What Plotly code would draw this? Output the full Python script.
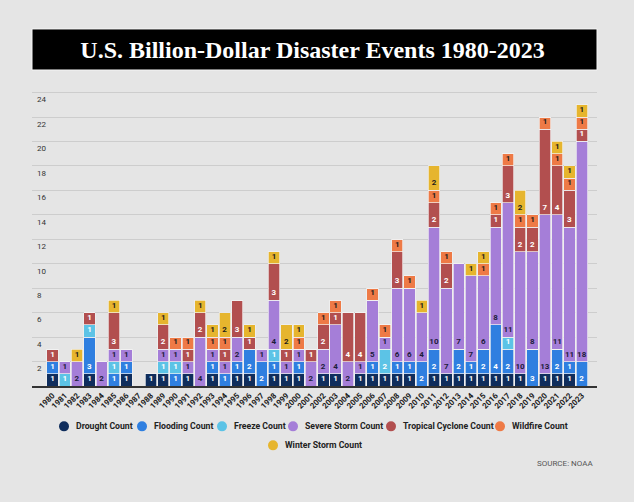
import plotly.graph_objects as go

years = [str(y) for y in range(1980, 2024)]

drought =   [1,0,0,1,0,0,1,0,1,1, 0,1,0,1,0,1,1,0,1,1, 1,0,1,1,0,1,1,1,1,1, 0,1,1,1,1,1,1,1,1,0, 1,1,1,0]
flooding =  [1,0,0,3,0,1,1,0,0,0, 1,0,0,1,1,1,2,2,1,0, 1,0,0,0,0,0,1,0,1,1, 2,2,0,2,1,2,4,2,0,3, 0,2,1,2]
freeze =    [0,1,0,1,0,1,0,0,0,1, 1,0,0,0,0,0,0,0,1,0, 0,0,0,0,0,0,0,2,0,0, 0,0,0,0,0,0,0,1,0,0, 0,0,0,0]
severe =    [0,1,2,0,2,1,1,0,0,1, 1,1,4,1,1,2,0,1,4,1, 1,2,2,4,2,1,5,1,6,6, 4,10,7,7,7,6,8,11,10,8, 13,11,11,18]
tropical =  [1,0,0,1,0,3,0,0,0,2, 0,1,2,0,1,3,1,0,3,1, 0,1,2,1,4,4,0,0,3,0, 0,2,2,0,0,0,1,3,2,2, 7,4,3,1]
wildfire =  [0,0,0,0,0,0,0,0,0,0, 1,1,0,1,1,0,0,0,0,0, 1,0,1,1,0,0,1,1,1,1, 0,1,1,0,0,1,1,1,1,1, 1,1,1,1]
winter =    [0,0,1,0,0,1,0,0,0,1, 0,0,1,1,2,0,1,0,1,2, 1,0,0,0,0,0,0,0,0,0, 1,2,0,0,1,1,0,0,2,0, 0,1,1,1]

series_names = ["Drought Count", "Flooding Count", "Freeze Count", "Severe Storm Count",
                "Tropical Cyclone Count", "Wildfire Count", "Winter Storm Count"]
series_values = [drought, flooding, freeze, severe, tropical, wildfire, winter]
series_colors = ["#0f2d5c", "#2f7fe0", "#5cc3e6", "#a57ed8", "#b24f4f", "#ee7a46", "#e6b52e"]
label_colors = ["white", "white", "white", "#1c1c3a", "white", "#1c1c1c", "#1c1c1c"]

# Page geometry (pixels)
W, H = 634, 502
PL, PR, PT, PB = 32, 597, 84, 385.7  # plot area edges


def px_x(x):
    return (x - PL) / (PR - PL)


def px_y(y):
    return (PB - y) / (PB - PT)


fig = go.Figure()
for name, vals, col, lcol in zip(series_names, series_values, series_colors, label_colors):
    fig.add_trace(go.Bar(
        x=years, y=vals, name=name,
        marker=dict(color=col, line=dict(color="#f2f2f2", width=0.7)),
        text=[str(v) if v else "" for v in vals],
        textposition="inside", insidetextanchor="start", textangle=0,
        textfont=dict(family="Roboto", size=8, color=lcol, weight="bold"),
        showlegend=False, hoverinfo="x+y+name",
    ))

# Legend (two centred rows, circle markers) laid out as in the reference
legend_pos = [(64, 426), (142, 426), (222, 426), (293, 426), (391, 426), (500, 426), (273, 445)]
shapes = [dict(type="rect", xref="paper", yref="paper", x0=0, x1=1.0,
               y0=px_y(70), y1=px_y(29), fillcolor="black",
               line=dict(color="#f5f5f5", width=1), layer="below")]
annotations = []
for name, col, (cx, cy) in zip(series_names, series_colors, legend_pos):
    shapes.append(dict(type="circle", xref="paper", yref="paper",
                       xsizemode="pixel", ysizemode="pixel",
                       xanchor=px_x(cx), yanchor=px_y(cy),
                       x0=-5, x1=5, y0=-5, y1=5,
                       fillcolor=col, line=dict(width=0)))
    annotations.append(dict(text=name, xref="paper", yref="paper",
                            x=px_x(cx + 10), y=px_y(cy), xanchor="left", yanchor="middle",
                            showarrow=False,
                            font=dict(family="Roboto", size=8.7, color="#222", weight="bold")))

annotations.append(dict(text="SOURCE: NOAA", xref="paper", yref="paper",
                        x=px_x(595), y=px_y(463), xanchor="right", yanchor="middle",
                        showarrow=False, font=dict(family="Roboto", size=8, color="#555")))

fig.update_layout(
    width=W, height=H,
    margin=dict(l=PL, r=W - PR, t=PT, b=H - PB),
    paper_bgcolor="#e5e5e5", plot_bgcolor="#e5e5e5",
    barmode="stack", bargap=0.08,
    showlegend=False,
    uniformtext=dict(minsize=8, mode="show"),
    title=dict(text="U.S. Billion-Dollar Disaster Events 1980-2023",
               font=dict(family="Liberation Serif", size=24, color="white", weight="bold"),
               x=0.493, xanchor="center", xref="container",
               y=1 - 50 / H, yanchor="middle", yref="container"),
    xaxis=dict(type="category", range=[-1.665, 44.23], showline=True, linecolor="#333",
               linewidth=1.5, tickangle=-45, ticks="", showgrid=False,
               tickfont=dict(family="Roboto", size=8, color="#222", weight="bold")),
    yaxis=dict(range=[0, 24.7], dtick=2, showgrid=True, gridcolor="#cdcdcd", gridwidth=1,
               zeroline=False, ticks="", ticklabelposition="inside", ticklabelstandoff=2,
               ticklabelshift=7, tickfont=dict(family="Roboto", size=8, color="#333")),
    shapes=shapes,
    annotations=annotations,
)

fig.write_html("out.html",
               config={"displayModeBar": False},
               post_script="document.body.style.margin='0px';"
                           "document.body.style.background='#e5e5e5';")
